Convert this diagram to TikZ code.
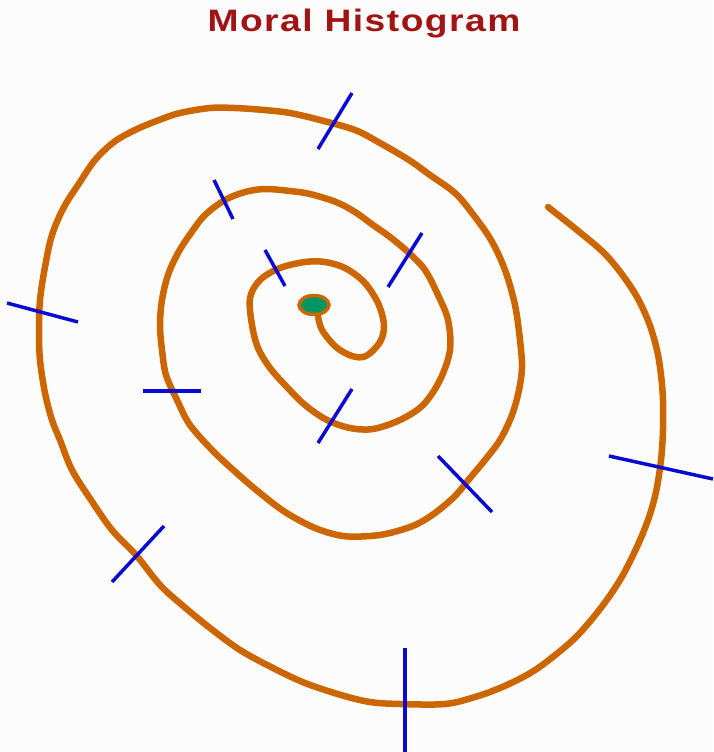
\documentclass[tikz,border=0pt]{standalone}
\usepackage{fontspec}
\setmainfont{Liberation Sans}
\definecolor{spiralc}{RGB}{204,102,0}
\definecolor{tickc}{RGB}{10,10,210}
\definecolor{dotc}{RGB}{0,150,100}
\definecolor{titlec}{RGB}{160,20,20}
\definecolor{bgc}{RGB}{252,252,252}
\tikzset{
  spiral/.style={draw=spiralc, line width=6.5pt, line cap=round, line join=round},
  tick/.style={draw=tickc, line width=3.5pt},
  titletext/.style={text=titlec, font=\fontsize{31}{36}\selectfont\bfseries\addfontfeatures{LetterSpace=4}, inner sep=0pt}
}
\begin{document}
\begin{tikzpicture}[x=1pt,y=-1pt]
\fill[bgc] (0,0) rectangle (713,752);
\useasboundingbox (0,0) rectangle (713,752);
\node[titletext] (title) at (364,24) {\scalebox{1.2}[1]{Moral Histogram}};
% spiral
\draw[spiral] plot[smooth, tension=0.55] coordinates {
(318,316) (322,330) (336,347) (352,356) (366,356) (380,342) (384,325) (378,303)
(364,282) (345,268) (325,262) (305,262) (280,268) (260,280) (250,298) (252,325)
(258,348) (270,368) (285,385) (305,405) (327,420) (350,428) (373,429) (400,420)
(423,405) (440,380) (450,350) (448,320) (438,295) (425,270) (409,253) (390,237)
(373,225) (355,212) (336,202) (310,194) (290,191) (265,189) (245,192) (225,200)
(205,215) (191,233) (178,253) (168,275) (162,300) (160,325) (162,350) (166,375)
(177,400) (190,425) (214,452) (240,476) (260,493) (285,512) (315,528) (343,536)
(370,536) (390,533) (415,525) (435,513) (455,496) (470,478) (485,460) (500,440)
(512,415) (519,390) (522,367) (520,340) (515,305) (505,270) (491,240) (472,213)
(455,193) (430,175) (409,160) (380,143) (355,130) (320,120) (290,113) (264,110)
(235,108) (210,108) (180,113) (159,120) (135,130) (114,142) (95,160) (80,182)
(64,207) (52,235) (45,267) (40,300) (39,330) (40,360) (45,393) (52,420)
(60,440) (72,470) (91,500) (112,530) (136,555) (160,585) (182,605) (210,628)
(240,650) (273,668) (305,683) (341,695) (370,702) (400,704) (445,704) (475,697)
(500,688) (525,676) (545,663) (575,638) (600,609) (620,580) (636,549) (648,520)
(656,492) (661,460) (663,430) (663,400) (661,375) (657,350) (649,323) (637,297)
(621,273) (603,252) (577,230) (548,207)};
% centre dot
\draw[draw=spiralc, fill=dotc, line width=3.5pt] (314,305) ellipse [x radius=15, y radius=9.5];
% ticks
\draw[tick] (352,93) -- (318,149);
\draw[tick] (214,180) -- (233,219);
\draw[tick] (265,250) -- (285,286);
\draw[tick] (422,233) -- (388,287);
\draw[tick] (7,303) -- (78,322);
\draw[tick] (143,391) -- (201,391);
\draw[tick] (352,389) -- (318,443);
\draw[tick] (438,456) -- (492,512);
\draw[tick] (609,456) -- (713,479);
\draw[tick] (164,526) -- (112,582);
\draw[tick] (405,648) -- (405,752);
\end{tikzpicture}
\end{document}
